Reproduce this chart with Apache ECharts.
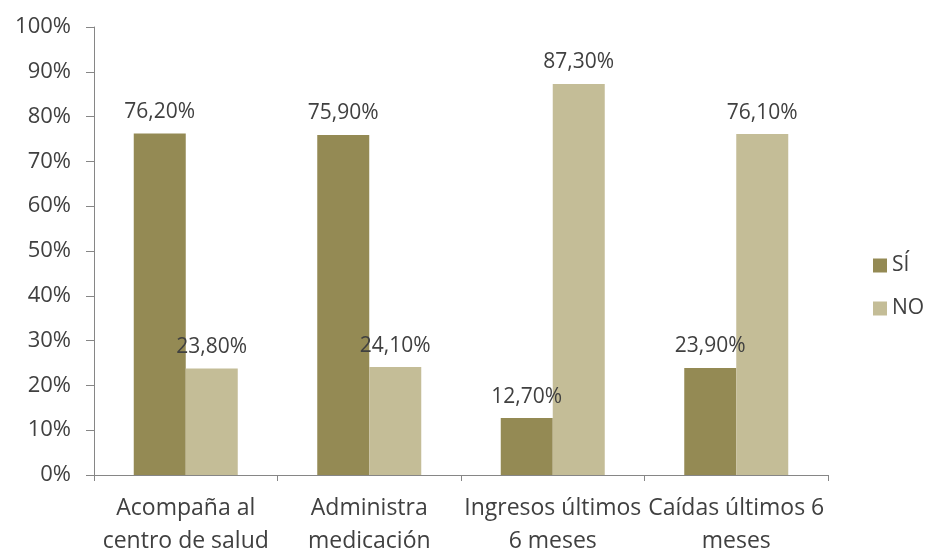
<!DOCTYPE html>
<html>
<head>
<meta charset="utf-8">
<script src="https://cdn.jsdelivr.net/npm/echarts@6/dist/echarts.min.js"></script>
<style>
  html, body { margin: 0; padding: 0; background: #fff; }
  #chart { width: 928px; height: 549px; }
</style>
</head>
<body>
<div id="chart"></div>
<script>
  // datos
  const categories = ['Acompaña al\ncentro de salud', 'Administra\nmedicación', 'Ingresos últimos\n6 meses', 'Caídas últimos 6\nmeses']
  const siValues = [76.2, 75.9, 12.7, 23.9]
  const noValues = [23.8, 24.1, 87.3, 76.1]
  const yTicks = [0, 10, 20, 30, 40, 50, 60, 70, 80, 90, 100]

  const font = 'Open Sans'
  const chart = echarts.init(document.getElementById('chart'))

  const fmt = p => p.value.toFixed(2).replace('.', ',') + '%'

  const labelOpt = {
    show: true,
    position: 'top',
    distance: 11,
    formatter: fmt,
    fontFamily: font,
    fontSize: 21,
    color: '#404040'
  }

  chart.setOption({
    animation: false,
    grid: {
      left: 94,
      right: 100,
      top: 27,
      bottom: 74,
      outerBoundsMode: 'none'
    },
    legend: {
      orient: 'vertical',
      left: 868,
      top: 250,
      itemWidth: 14,
      itemHeight: 14,
      itemGap: 22,
      icon: 'rect',
      textStyle: { fontFamily: font, fontSize: 21, color: '#404040' },
      data: ['SÍ', 'NO']
    },
    xAxis: {
      type: 'category',
      data: categories,
      axisLine: { lineStyle: { color: '#868686' } },
      axisTick: { show: true, length: 6, lineStyle: { color: '#868686' } },
      axisLabel: {
        interval: 0,
        margin: 17,
        fontFamily: font,
        fontSize: 23,
        lineHeight: 33,
        color: '#404040'
      }
    },
    yAxis: {
      type: 'value',
      min: yTicks[0],
      max: yTicks[yTicks.length - 1],
      interval: 10,
      splitLine: { show: false },
      axisLine: { show: true, lineStyle: { color: '#868686' } },
      axisTick: { show: true, length: 8, lineStyle: { color: '#868686' } },
      axisLabel: {
        margin: 23,
        formatter: v => v + '%',
        fontFamily: font,
        fontSize: 22,
        color: '#404040'
      }
    },
    series: [
      {
        name: 'SÍ',
        type: 'bar',
        data: siValues,
        barWidth: 52,
        barGap: '0%',
        itemStyle: { color: '#948A54' },
        label: labelOpt
      },
      {
        name: 'NO',
        type: 'bar',
        data: noValues,
        barWidth: 52,
        itemStyle: { color: '#C4BD97' },
        label: labelOpt
      }
    ]
  })
</script>
</body>
</html>
